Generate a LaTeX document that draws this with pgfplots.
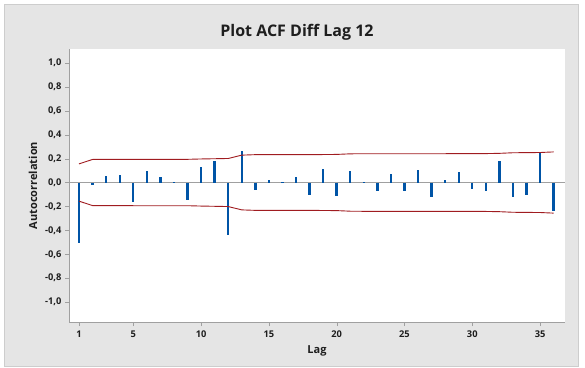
\documentclass[border=0pt]{standalone}
\usepackage{fontspec}
\setmainfont{Open Sans}
\usepackage{pgfplots}
\pgfplotsset{compat=1.18}
\definecolor{bg}{RGB}{229,229,229}
\definecolor{bgborder}{RGB}{205,205,205}
\definecolor{barblue}{RGB}{0,84,166}
\definecolor{bandred}{RGB}{160,28,32}
\definecolor{axgray}{RGB}{160,160,160}
\definecolor{txt}{RGB}{30,30,30}
\begin{document}
\begin{tikzpicture}[x=1pt,y=1pt]
\fill[white] (0,0) rectangle (585,367);
\filldraw[fill=bg,draw=bgborder] (4,1) rectangle (578,363);
\begin{axis}[
  at={(69pt,45pt)}, anchor=south west,
  scale only axis, width=496pt, height=273pt,
  xmin=0.26, xmax=36.84, ymin=-1.167, ymax=1.117,
  axis background/.style={fill=white},
  axis line style={axgray},
  axis x line*=bottom, axis y line*=left,
  xtick={1,5,10,15,20,25,30,35},
  ytick={-1,-0.8,-0.6,-0.4,-0.2,0,0.2,0.4,0.6,0.8,1},
  yticklabel style={/pgf/number format/.cd,fixed,fixed zerofill,precision=1,use comma},
  /pgf/number format/assume math mode=true,
  tick align=outside, major tick length=4pt, tick style={axgray},
  ticklabel style={font=\fontsize{9.3}{10}\selectfont\bfseries, text=txt},
  xticklabel style={yshift=-1pt},
  xlabel={Lag}, ylabel={Autocorrelation},
  label style={font=\fontsize{11}{13}\selectfont\bfseries, text=txt},
  xlabel style={yshift=-1pt},
  ylabel style={yshift=1pt},
  title={Plot ACF Diff Lag 12},
  title style={font=\fontsize{16}{18}\selectfont\bfseries, text=txt, yshift=-1pt, xshift=-20pt},
  clip=false,
]
\draw[axgray] ({rel axis cs:0,0}|-{axis cs:1,0}) -- ({rel axis cs:1,0}|-{axis cs:1,0});
\addplot[ycomb, draw=barblue, line width=2.4pt, no marks] coordinates {
(1,-0.51) (2,-0.022) (3,0.056) (4,0.064) (5,-0.167) (6,0.095) (7,0.047) (8,0.003)
(9,-0.145) (10,0.128) (11,0.176) (12,-0.438) (13,0.262) (14,-0.064) (15,0.017)
(16,0.008) (17,0.042) (18,-0.103) (19,0.112) (20,-0.112) (21,0.095) (22,0.002)
(23,-0.073) (24,0.074) (25,-0.073) (26,0.103) (27,-0.12) (28,0.02) (29,0.086)
(30,-0.056) (31,-0.073) (32,0.181) (33,-0.12) (34,-0.103) (35,0.245) (36,-0.237)
};
\addplot[bandred, line width=0.9pt, no marks] coordinates {
(1,0.156) (2,0.193) (3,0.193) (4,0.193) (5,0.194) (6,0.194) (7,0.194) (8,0.194)
(9,0.194) (10,0.197) (11,0.199) (12,0.201) (13,0.229) (14,0.233) (15,0.233)
(16,0.233) (17,0.233) (18,0.233) (19,0.234) (20,0.235) (21,0.240) (22,0.241)
(23,0.241) (24,0.241) (25,0.241) (26,0.241) (27,0.241) (28,0.241) (29,0.242)
(30,0.242) (31,0.242) (32,0.244) (33,0.249) (34,0.250) (35,0.251) (36,0.256)
};
\addplot[bandred, line width=0.9pt, no marks] coordinates {
(1,-0.156) (2,-0.193) (3,-0.193) (4,-0.193) (5,-0.194) (6,-0.194) (7,-0.194) (8,-0.194)
(9,-0.194) (10,-0.197) (11,-0.199) (12,-0.201) (13,-0.229) (14,-0.233) (15,-0.233)
(16,-0.233) (17,-0.233) (18,-0.233) (19,-0.234) (20,-0.235) (21,-0.240) (22,-0.241)
(23,-0.241) (24,-0.241) (25,-0.241) (26,-0.241) (27,-0.241) (28,-0.241) (29,-0.242)
(30,-0.242) (31,-0.242) (32,-0.244) (33,-0.249) (34,-0.250) (35,-0.251) (36,-0.256)
};
\end{axis}
\end{tikzpicture}
\end{document}
